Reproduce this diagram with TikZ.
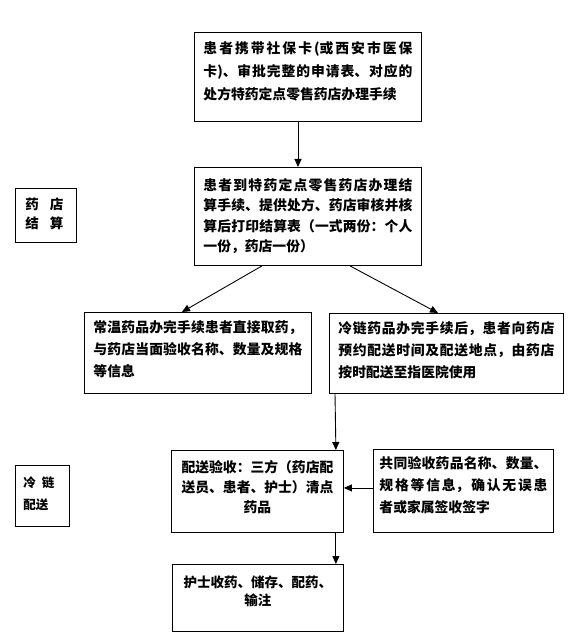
\documentclass[tikz,border=0pt]{standalone}
\usepackage{fontspec}
\setmainfont{Noto Sans CJK SC}
\usetikzlibrary{arrows.meta}
\XeTeXlinebreaklocale "zh"
\XeTeXlinebreakskip=0pt plus 2pt
\newcommand\bxt[6]{\parbox[c][#2][t]{#1}{\bfseries\fontsize{#3}{#5}\selectfont\lineskiplimit=-100pt\relax\rule{0pt}{#4}#6}}
\tikzset{
  bx/.style={draw, line width=0.9pt, inner ysep=0pt, anchor=north west, font=\bfseries},
  arr/.style={line width=0.9pt, -{Triangle[length=8pt,width=7pt]}}
}
\begin{document}
\begin{tikzpicture}[x=1pt,y=-1pt]
\useasboundingbox (0,0) rectangle (577,636);
% main boxes
\node[bx, inner xsep=9pt] (b1) at (194,32) {\bxt{209pt}{89pt}{13.8pt}{21pt}{23pt}{患者携带社保卡(或西安市医保\linebreak 卡)、审批完整的申请表、对应的\linebreak 处方特药定点零售药店办理手续}};
\node[bx, inner xsep=9pt] (b2) at (194,167) {\bxt{209pt}{98pt}{13.8pt}{23pt}{20.3pt}{患者到特药定点零售药店办理结\linebreak 算手续、提供处方、药店审核并核\linebreak 算后打印结算表（一式两份：个人\linebreak 一份，药店一份）}};
\node[bx, inner xsep=9pt] (b3) at (84,312) {\bxt{209pt}{81pt}{13.8pt}{20pt}{22pt}{常温药品办完手续患者直接取药，\linebreak 与药店当面验收名称、数量及规格\linebreak 等信息}};
\node[bx, inner xsep=9pt] (b4) at (329,313) {\bxt{216pt}{80pt}{13.8pt}{20pt}{22pt}{冷链药品办完手续后，患者向药店\linebreak 预约配送时间及配送地点，由药店\linebreak 按时配送至指医院使用}};
\node[bx, inner xsep=8pt] (b5) at (171,450) {\bxt{156pt}{82pt}{13.8pt}{22pt}{20pt}{\centering 配送验收：三方（药店配\\送员、患者、护士）清点\\药品}};
\node[bx, inner xsep=6pt] (b6) at (373,449) {\bxt{168pt}{83pt}{13.8pt}{19pt}{22pt}{共同验收药品名称、数量、\linebreak 规格等信息，确认无误患\linebreak 者或家属签收签字}};
\node[bx, inner xsep=8pt] (b7) at (172,564) {\bxt{155pt}{67pt}{13.5pt}{23pt}{18.5pt}{\centering 护士收药、储存、配药、\\输注}};
% side labels
\node[bx, inner xsep=10pt] (s1) at (15,188) {\bxt{41pt}{54pt}{13.5pt}{21pt}{19pt}{\raggedright 药\hspace{11pt}店\\结\hspace{11pt}算}};
\node[bx, inner xsep=8pt] (s2) at (15,465) {\bxt{38pt}{61pt}{12.5pt}{22pt}{22pt}{\raggedright 冷\hspace{6pt}链\\配送}};
% connectors
\draw[arr] ([xshift=104pt]b1.south west) -- ([xshift=104pt]b2.north west);
\draw[arr] ([xshift=68pt]b2.south west) -- ([xshift=98pt]b3.north west);
\draw[arr] ([xshift=156pt]b2.south west) -- ([xshift=109pt]b4.north west);
\draw[arr] ([xshift=6pt]b4.south west) -- ([xshift=-8pt]b5.north east);
\draw[arr] ([yshift=3pt]b6.west) -- ([yshift=3pt]b6.west -| b5.east);
\draw[arr] ([xshift=-8pt]b5.south east) -- ([xshift=-8pt]b7.north east);
\end{tikzpicture}
\end{document}
